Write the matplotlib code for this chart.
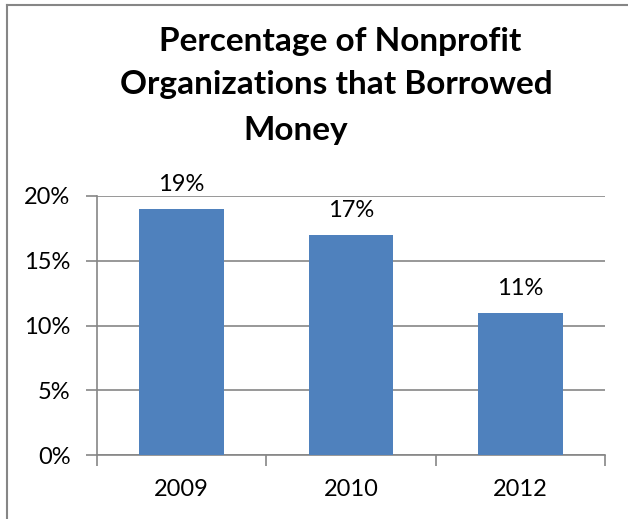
import numpy as np
import matplotlib.pyplot as plt
from matplotlib.lines import Line2D

# Datos
anios = ['2009', '2010', '2012']
porcentajes = [19, 17, 11]
ticks_y = [0, 5, 10, 15, 20]

plt.rcParams['font.family'] = ['Lato', 'DejaVu Sans']

fig = plt.figure(figsize=(6.28, 5.19), dpi=100)
ax = fig.add_axes([97 / 628, 64 / 519, 508 / 628, 259 / 519])

gris = '#868686'
x = np.arange(len(anios))
barras = ax.bar(x, porcentajes, width=0.5, color='#4F81BD', zorder=3)

ax.set_xlim(-0.5, len(anios) - 0.5)
ax.set_ylim(0, 20)
ax.set_yticks(ticks_y)
ax.set_yticklabels([f'{v}%' for v in ticks_y], fontsize=17)
ax.yaxis.grid(True, color=gris, linewidth=1.2, zorder=0)

# Marcas del eje x en los límites de cada categoría, etiquetas en el centro
ax.set_xticks(np.arange(len(anios) + 1) - 0.5)
ax.set_xticklabels([])
ax.set_xticks(x, minor=True)
ax.set_xticklabels(anios, minor=True, fontsize=17)
ax.tick_params(axis='x', which='major', length=8, color=gris, width=1.2)
ax.tick_params(axis='x', which='minor', length=0, pad=17)
ax.tick_params(axis='y', length=8, color=gris, width=1.2, pad=11)

for lado in ['top', 'right']:
    ax.spines[lado].set_visible(False)
for lado in ['left', 'bottom']:
    ax.spines[lado].set_color(gris)
    ax.spines[lado].set_linewidth(1.2)

# Etiquetas de valor sobre cada barra
for b, v in zip(barras, porcentajes):
    ax.annotate(f'{v}%', (b.get_x() + b.get_width() / 2, v),
                xytext=(0, 10), textcoords='offset points',
                ha='center', va='bottom', fontsize=17)

# Título en tres líneas
fig.text(340 / 628, 1 - 41 / 519, 'Percentage of Nonprofit',
         ha='center', va='center', fontsize=24, fontweight='bold')
fig.text(336 / 628, 1 - 85 / 519, 'Organizations that Borrowed',
         ha='center', va='center', fontsize=24, fontweight='bold')
fig.text(296 / 628, 1 - 130 / 519, 'Money',
         ha='center', va='center', fontsize=24, fontweight='bold')

# Marco del gráfico
fig.add_artist(Line2D([7 / 628, 7 / 628], [0, 1 - 5 / 519], color=gris, linewidth=1.5))
fig.add_artist(Line2D([7 / 628, 1], [1 - 5 / 519, 1 - 5 / 519], color=gris, linewidth=1.5))

fig.savefig('out.png', dpi=100)
